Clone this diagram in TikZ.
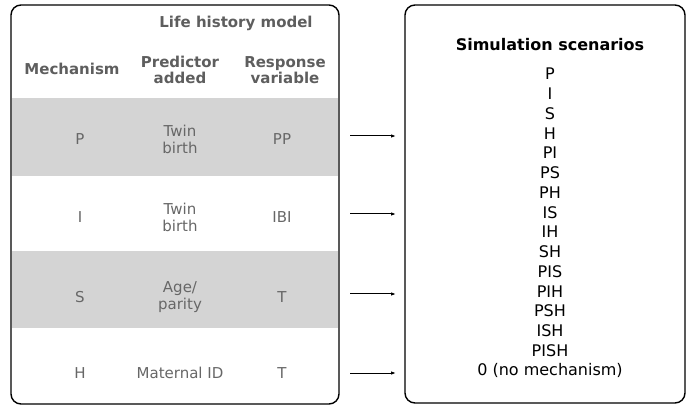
\documentclass[tikz,border=0pt]{standalone}
\usepackage{fontspec}
\setmainfont{DejaVu Sans}
\usetikzlibrary{arrows.meta}

\definecolor{bandgray}{HTML}{D4D4D4}
\definecolor{cellgray}{HTML}{676767}
\definecolor{headgray}{HTML}{5E5E5E}

\begin{document}
\begin{tikzpicture}[x=1pt, y=-1pt,
    cell/.style={text=cellgray, font=\fontsize{15}{17}\selectfont, align=center},
    head/.style={text=headgray, font=\fontsize{15}{16.5}\selectfont\bfseries, align=center},
    scen/.style={font=\fontsize{16}{19}\selectfont, anchor=base},
    panel/.style={line width=1.4pt, rounded corners=10pt},
    link/.style={-{Latex[length=5pt,width=3.5pt]}, line width=1pt}]
  \useasboundingbox (0,0) rectangle (686,406);

  % shaded rows
  \fill [bandgray] (12,98) rectangle (338,176);
  \fill [bandgray] (12,251) rectangle (338,328);

  % the two panels
  \draw [panel] (11,5) rectangle (339,404);
  \draw [panel] (405,5) rectangle (685,403);

  % table header
  \node [head] (model) at (236,23) {Life history model};
  \node [head] (mech) at (72,69) {Mechanism};
  \node [head] (pred) at (180,70) {Predictor\\added};
  \node [head] (resp) at (285,70) {Response\\variable};

  % table body
  \node [cell] (mP) at (80,139) {P};
  \node [cell] (pP) at (180,139) {Twin\\birth};
  \node [cell] (rP) at (282,139) {PP};

  \node [cell] (mI) at (80,217) {I};
  \node [cell] (pI) at (180,217) {Twin\\birth};
  \node [cell] (rI) at (282,217) {IBI};

  \node [cell] (mS) at (80,297) {S};
  \node [cell] (pS) at (180,297) {Age/\\parity};
  \node [cell] (rS) at (282,297) {T};

  \node [cell] (mH) at (80,373) {H};
  \node [cell] (pH) at (180,373) {Maternal ID};
  \node [cell] (rH) at (282,373) {T};

  % arrows between the panels
  \coordinate (aP0) at (350,136);  \coordinate (aP1) at (396,136);
  \coordinate (aI0) at (350,214);  \coordinate (aI1) at (396,214);
  \coordinate (aS0) at (350,294);  \coordinate (aS1) at (396,294);
  \coordinate (aH0) at (350,373);  \coordinate (aH1) at (396,373);
  \draw [link] (aP0) -- (aP1);
  \draw [link] (aI0) -- (aI1);
  \draw [link] (aS0) -- (aS1);
  \draw [link] (aH0) -- (aH1);

  % scenarios
  \node [font=\fontsize{16}{19}\selectfont\bfseries] (title) at (550,45) {Simulation scenarios};
  \foreach \lbl [count=\i from 0] in {P,I,S,H,PI,PS,PH,IS,IH,SH,PIS,PIH,PSH,ISH,PISH,0 (no mechanism)}
    \node [scen] (s\i) at (550,80+19.73*\i) {\lbl};
\end{tikzpicture}
\end{document}
